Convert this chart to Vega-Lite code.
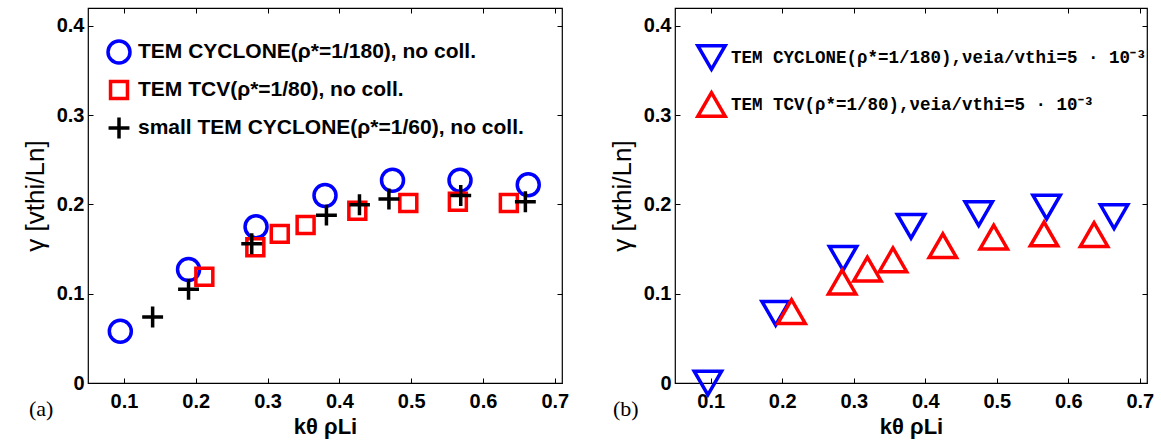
{
  "$schema": "https://vega.github.io/schema/vega-lite/v6.json",
  "background": "white",
  "padding": {"left": 21, "top": 6, "right": 5, "bottom": 2},
  "bounds": "flush",
  "spacing": 113,
  "config": {
    "view": {"stroke": "black", "strokeWidth": 1.2},
    "font": "Liberation Sans",
    "axis": {
      "domain": false, "grid": false, "ticks": true, "tickSize": -5, "tickColor": "black", "tickWidth": 1,
      "labelFont": "Liberation Sans", "labelFontSize": 20, "labelFontWeight": "bold", "labelColor": "black",
      "titleFont": "Liberation Sans", "titleColor": "black"
    },
    "axisBottom": {"labelPadding": 13, "titleFontSize": 22, "titleFontWeight": "bold", "titlePadding": 5},
    "axisLeft": {"labelPadding": 9, "titleFontSize": 26, "titleFontWeight": "normal", "titlePadding": 8},
    "legend": {"labelLimit": 0, "labelColor": "black"}
  },
  "resolve": {"scale": {"color": "independent", "shape": "independent"}, "legend": {"color": "independent", "shape": "independent"}},
  "hconcat": [
    {
      "width": 474, "height": 375,
      "title": {"text": "(a)", "orient": "bottom", "anchor": "start", "frame": "group", "font": "Liberation Serif", "fontSize": 22, "fontWeight": "normal", "color": "black", "dx": -59, "dy": -42},
      "data": {"values": [
        {"k": 0.095, "gamma": 0.058, "series": "TEM CYCLONE(ρ*=1/180), no coll."},
        {"k": 0.190, "gamma": 0.127, "series": "TEM CYCLONE(ρ*=1/180), no coll."},
        {"k": 0.284, "gamma": 0.175, "series": "TEM CYCLONE(ρ*=1/180), no coll."},
        {"k": 0.380, "gamma": 0.210, "series": "TEM CYCLONE(ρ*=1/180), no coll."},
        {"k": 0.474, "gamma": 0.227, "series": "TEM CYCLONE(ρ*=1/180), no coll."},
        {"k": 0.568, "gamma": 0.227, "series": "TEM CYCLONE(ρ*=1/180), no coll."},
        {"k": 0.663, "gamma": 0.222, "series": "TEM CYCLONE(ρ*=1/180), no coll."},
        {"k": 0.212, "gamma": 0.119, "series": "TEM TCV(ρ*=1/80), no coll."},
        {"k": 0.283, "gamma": 0.152, "series": "TEM TCV(ρ*=1/80), no coll."},
        {"k": 0.317, "gamma": 0.167, "series": "TEM TCV(ρ*=1/80), no coll."},
        {"k": 0.353, "gamma": 0.177, "series": "TEM TCV(ρ*=1/80), no coll."},
        {"k": 0.425, "gamma": 0.193, "series": "TEM TCV(ρ*=1/80), no coll."},
        {"k": 0.496, "gamma": 0.2015, "series": "TEM TCV(ρ*=1/80), no coll."},
        {"k": 0.565, "gamma": 0.203, "series": "TEM TCV(ρ*=1/80), no coll."},
        {"k": 0.636, "gamma": 0.2015, "series": "TEM TCV(ρ*=1/80), no coll."},
        {"k": 0.140, "gamma": 0.074, "series": "small TEM CYCLONE(ρ*=1/60), no coll."},
        {"k": 0.190, "gamma": 0.105, "series": "small TEM CYCLONE(ρ*=1/60), no coll."},
        {"k": 0.278, "gamma": 0.156, "series": "small TEM CYCLONE(ρ*=1/60), no coll."},
        {"k": 0.382, "gamma": 0.188, "series": "small TEM CYCLONE(ρ*=1/60), no coll."},
        {"k": 0.428, "gamma": 0.1996, "series": "small TEM CYCLONE(ρ*=1/60), no coll."},
        {"k": 0.469, "gamma": 0.206, "series": "small TEM CYCLONE(ρ*=1/60), no coll."},
        {"k": 0.569, "gamma": 0.210, "series": "small TEM CYCLONE(ρ*=1/60), no coll."},
        {"k": 0.659, "gamma": 0.203, "series": "small TEM CYCLONE(ρ*=1/60), no coll."}
      ]},
      "layer": [
        {
          "mark": {"type": "point", "filled": false, "strokeWidth": 3.5, "size": 484, "opacity": 1},
          "encoding": {
            "x": {"field": "k", "type": "quantitative", "scale": {"domain": [0.05, 0.71], "nice": false, "zero": false},
                  "axis": {"orient": "bottom", "values": [0.1, 0.2, 0.3, 0.4, 0.5, 0.6, 0.7], "format": ".1~f", "title": "kθ ρLi"}},
            "y": {"field": "gamma", "type": "quantitative", "scale": {"domain": [0, 0.42], "nice": false, "zero": false},
                  "axis": {"orient": "left", "values": [0, 0.1, 0.2, 0.3, 0.4], "format": ".1~f", "title": "γ [vthi/Ln]"}},
            "strokeWidth": {"field": "series", "type": "nominal",
                      "scale": {"domain": ["TEM CYCLONE(ρ*=1/180), no coll.", "TEM TCV(ρ*=1/80), no coll.", "small TEM CYCLONE(ρ*=1/60), no coll."], "range": [3.5, 3.5, 4.5]},
                      "legend": null},
            "color": {"field": "series", "type": "nominal",
                      "scale": {"domain": ["TEM CYCLONE(ρ*=1/180), no coll.", "TEM TCV(ρ*=1/80), no coll.", "small TEM CYCLONE(ρ*=1/60), no coll."], "range": ["#0000ff", "#ff0000", "#000000"]},
                      "legend": {"title": null, "orient": "none", "legendX": 18, "legendY": 31, "labelFont": "Liberation Sans", "labelFontSize": 21, "labelFontWeight": "bold", "symbolSize": 484, "symbolStrokeWidth": 3.5, "rowPadding": 4, "labelOffset": 6}},
            "shape": {"field": "series", "type": "nominal",
                      "scale": {"domain": ["TEM CYCLONE(ρ*=1/180), no coll.", "TEM TCV(ρ*=1/80), no coll.", "small TEM CYCLONE(ρ*=1/60), no coll."], "range": ["circle", "M-0.77,-0.77H0.77V0.77H-0.77Z", "M-0.95,0H0.95M0,-0.95V0.95"]},
                      "legend": {"title": null, "orient": "none", "legendX": 18, "legendY": 31, "labelFont": "Liberation Sans", "labelFontSize": 21, "labelFontWeight": "bold", "symbolSize": 484, "symbolStrokeWidth": 3.5, "rowPadding": 4, "labelOffset": 6}}
          }
        },
        {
          "mark": {"type": "point", "opacity": 0},
          "encoding": {
            "x": {"field": "k", "type": "quantitative", "scale": {"domain": [0.05, 0.71], "nice": false, "zero": false},
                  "axis": {"orient": "top", "values": [0.1, 0.2, 0.3, 0.4, 0.5, 0.6, 0.7], "labels": false, "title": null}},
            "y": {"field": "gamma", "type": "quantitative", "scale": {"domain": [0, 0.42], "nice": false, "zero": false},
                  "axis": {"orient": "right", "values": [0, 0.1, 0.2, 0.3, 0.4], "labels": false, "title": null}}
          }
        }
      ],
      "resolve": {"scale": {"x": "independent", "y": "independent"}, "axis": {"x": "independent", "y": "independent"}}
    },
    {
      "width": 472, "height": 375,
      "title": {"text": "(b)", "orient": "bottom", "anchor": "start", "frame": "group", "font": "Liberation Serif", "fontSize": 22, "fontWeight": "normal", "color": "black", "dx": -62, "dy": -42},
      "data": {"values": [
        {"k": 0.096, "gamma": 0.0, "series": "TEM CYCLONE(ρ*=1/180),νeia/vthi=5 · 10⁻³"},
        {"k": 0.1907, "gamma": 0.078, "series": "TEM CYCLONE(ρ*=1/180),νeia/vthi=5 · 10⁻³"},
        {"k": 0.285, "gamma": 0.1396, "series": "TEM CYCLONE(ρ*=1/180),νeia/vthi=5 · 10⁻³"},
        {"k": 0.380, "gamma": 0.1755, "series": "TEM CYCLONE(ρ*=1/180),νeia/vthi=5 · 10⁻³"},
        {"k": 0.4747, "gamma": 0.1896, "series": "TEM CYCLONE(ρ*=1/180),νeia/vthi=5 · 10⁻³"},
        {"k": 0.5696, "gamma": 0.197, "series": "TEM CYCLONE(ρ*=1/180),νeia/vthi=5 · 10⁻³"},
        {"k": 0.664, "gamma": 0.1863, "series": "TEM CYCLONE(ρ*=1/180),νeia/vthi=5 · 10⁻³"},
        {"k": 0.213, "gamma": 0.080, "series": "TEM TCV(ρ*=1/80),νeia/vthi=5 · 10⁻³"},
        {"k": 0.2837, "gamma": 0.113, "series": "TEM TCV(ρ*=1/80),νeia/vthi=5 · 10⁻³"},
        {"k": 0.319, "gamma": 0.1276, "series": "TEM TCV(ρ*=1/80),νeia/vthi=5 · 10⁻³"},
        {"k": 0.3548, "gamma": 0.138, "series": "TEM TCV(ρ*=1/80),νeia/vthi=5 · 10⁻³"},
        {"k": 0.4245, "gamma": 0.1538, "series": "TEM TCV(ρ*=1/80),νeia/vthi=5 · 10⁻³"},
        {"k": 0.4957, "gamma": 0.1635, "series": "TEM TCV(ρ*=1/80),νeia/vthi=5 · 10⁻³"},
        {"k": 0.566, "gamma": 0.167, "series": "TEM TCV(ρ*=1/80),νeia/vthi=5 · 10⁻³"},
        {"k": 0.636, "gamma": 0.1663, "series": "TEM TCV(ρ*=1/80),νeia/vthi=5 · 10⁻³"}
      ]},
      "layer": [
        {
          "mark": {"type": "point", "filled": false, "strokeWidth": 3.5, "size": 750, "opacity": 1},
          "encoding": {
            "x": {"field": "k", "type": "quantitative", "scale": {"domain": [0.05, 0.71], "nice": false, "zero": false},
                  "axis": {"orient": "bottom", "values": [0.1, 0.2, 0.3, 0.4, 0.5, 0.6, 0.7], "format": ".1~f", "title": "kθ ρLi"}},
            "y": {"field": "gamma", "type": "quantitative", "scale": {"domain": [0, 0.42], "nice": false, "zero": false},
                  "axis": {"orient": "left", "values": [0, 0.1, 0.2, 0.3, 0.4], "format": ".1~f", "title": "γ [vthi/Ln]"}},
            "color": {"field": "series", "type": "nominal",
                      "scale": {"domain": ["TEM CYCLONE(ρ*=1/180),νeia/vthi=5 · 10⁻³", "TEM TCV(ρ*=1/80),νeia/vthi=5 · 10⁻³"], "range": ["#0000ff", "#ff0000"]},
                      "legend": {"title": null, "orient": "none", "legendX": 21, "legendY": 34, "labelFont": "Liberation Mono", "labelFontSize": 17.5, "labelFontWeight": "bold", "symbolSize": 750, "symbolStrokeWidth": 3.5, "rowPadding": 8, "labelOffset": 4}},
            "shape": {"field": "series", "type": "nominal",
                      "scale": {"domain": ["TEM CYCLONE(ρ*=1/180),νeia/vthi=5 · 10⁻³", "TEM TCV(ρ*=1/80),νeia/vthi=5 · 10⁻³"], "range": ["triangle-down", "triangle-up"]},
                      "legend": {"title": null, "orient": "none", "legendX": 21, "legendY": 34, "labelFont": "Liberation Mono", "labelFontSize": 17.5, "labelFontWeight": "bold", "symbolSize": 750, "symbolStrokeWidth": 3.5, "rowPadding": 8, "labelOffset": 4}}
          }
        },
        {
          "mark": {"type": "point", "opacity": 0},
          "encoding": {
            "x": {"field": "k", "type": "quantitative", "scale": {"domain": [0.05, 0.71], "nice": false, "zero": false},
                  "axis": {"orient": "top", "values": [0.1, 0.2, 0.3, 0.4, 0.5, 0.6, 0.7], "labels": false, "title": null}},
            "y": {"field": "gamma", "type": "quantitative", "scale": {"domain": [0, 0.42], "nice": false, "zero": false},
                  "axis": {"orient": "right", "values": [0, 0.1, 0.2, 0.3, 0.4], "labels": false, "title": null}}
          }
        }
      ],
      "resolve": {"scale": {"x": "independent", "y": "independent"}, "axis": {"x": "independent", "y": "independent"}}
    }
  ]
}
